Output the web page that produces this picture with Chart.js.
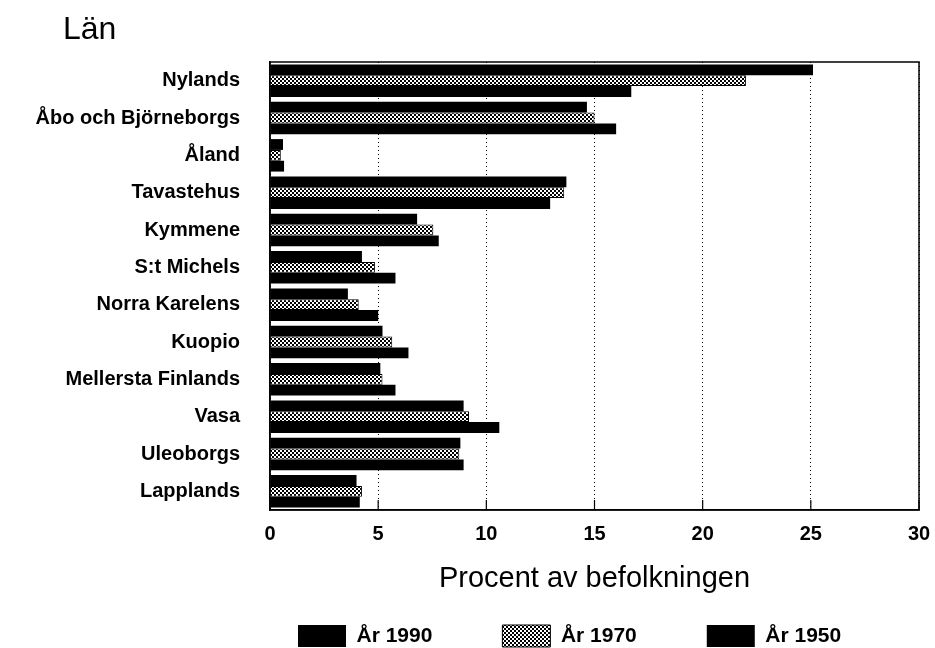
<!DOCTYPE html>
<html>
<head>
<meta charset="utf-8">
<script src="https://cdn.jsdelivr.net/npm/chart.js@4"></script>
<style>
  html, body { margin: 0; padding: 0; background: #fff; }
  #wrap { width: 935px; height: 648px; }
</style>
</head>
<body>
<div id="wrap"><canvas id="chart"></canvas></div>
<script>
const counties = ['Nylands', 'Åbo och Björneborgs', 'Åland', 'Tavastehus', 'Kymmene', 'S:t Michels',
    'Norra Karelens', 'Kuopio', 'Mellersta Finlands', 'Vasa', 'Uleoborgs', 'Lapplands'];
const year1990 = [25.1, 14.65, 0.6, 13.7, 6.8, 4.25, 3.6, 5.2, 5.1, 8.95, 8.8, 4.0];
const year1970 = [22.0, 15.0, 0.5, 13.6, 7.55, 4.85, 4.1, 5.65, 5.2, 9.2, 8.75, 4.25];
const year1950 = [16.7, 16.0, 0.65, 12.95, 7.8, 5.8, 5.0, 6.4, 5.8, 10.6, 8.95, 4.15];
const seriesLabels = ['År 1990', 'År 1970', 'År 1950'];
const xMin = 0, xMax = 30, xStep = 5;

const FONT = '"Liberation Sans", Arial, Helvetica, sans-serif';

// checkered fill used for the 1970 bars
function makePattern() {
    const c = document.createElement('canvas');
    c.width = 4; c.height = 4;
    const g = c.getContext('2d');
    g.fillStyle = '#fff';
    g.fillRect(0, 0, 4, 4);
    g.fillStyle = '#000';
    g.fillRect(0, 0, 2, 2);
    g.fillRect(2, 2, 2, 2);
    return g.createPattern(c, 'repeat');
}

// frame around the plot, short inward ticks on the x axis, and the "Län" heading
const framePlugin = {
    id: 'frame',
    afterLayout(chart) {
        // put the legend under the plot like the original (first box at x≈298, y≈625)
        // the legend clips to its own box, so the box is stretched to the canvas bottom
        const lg = chart.legend;
        const pad = lg.options.labels.padding;
        const start = (lg.left + pad + lg.right - lg.lineWidths[0]) / 2;
        const dx = 298 - start;
        lg.left += dx; lg.right += dx;
        lg.top = 625 - pad;
        lg.bottom = chart.height;
    },
    afterDatasetsDraw(chart) {
        const { ctx, chartArea: a, scales: { x } } = chart;
        ctx.save();
        ctx.strokeStyle = '#000';
        ctx.lineWidth = 1.5;
        ctx.strokeRect(a.left, a.top, a.right - a.left, a.bottom - a.top);
        ctx.lineWidth = 1.2;
        x.ticks.forEach((t, i) => {
            const px = x.getPixelForTick(i);
            ctx.beginPath();
            ctx.moveTo(px, a.bottom);
            ctx.lineTo(px, a.bottom - 10);
            ctx.stroke();
        });
        ctx.restore();
    },
    afterDraw(chart) {
        const ctx = chart.ctx;
        ctx.save();
        ctx.fillStyle = '#000';
        ctx.font = '32px ' + FONT;
        ctx.textBaseline = 'alphabetic';
        ctx.fillText('Län', 63, 39);
        ctx.restore();
    }
};

function renderChart() {
    const pattern = makePattern();
    const ctx = document.getElementById('chart').getContext('2d');
    new Chart(ctx, {
        type: 'bar',
        data: {
            labels: counties,
            datasets: [
                { label: seriesLabels[0], data: year1990, backgroundColor: '#000', borderColor: '#000', borderWidth: 0 },
                { label: seriesLabels[1], data: year1970, backgroundColor: pattern, borderColor: '#000', borderWidth: 1 },
                { label: seriesLabels[2], data: year1950, backgroundColor: '#000', borderColor: '#000', borderWidth: 0 }
            ]
        },
        options: {
            indexAxis: 'y',
            responsive: true,
            maintainAspectRatio: false,
            animation: false,
            categoryPercentage: 0.87,
            barPercentage: 1.0,
            layout: { padding: { top: 62, right: 0, left: 0, bottom: 0 } },
            plugins: {
                tooltip: { enabled: false },
                legend: {
                    position: 'bottom',
                    maxHeight: 43,
                    labels: {
                        color: '#000',
                        boxWidth: 48,
                        boxHeight: 22,
                        padding: 70,
                        font: { family: FONT, size: 21, weight: 'bold' }
                    }
                }
            },
            scales: {
                x: {
                    min: xMin,
                    max: xMax,
                    ticks: {
                        stepSize: xStep,
                        color: '#000',
                        padding: 12,
                        font: { family: FONT, size: 20, weight: 'bold' }
                    },
                    grid: {
                        color: '#000',
                        lineWidth: 1,
                        drawTicks: false
                    },
                    // in Chart.js v4 border.dash styles the grid lines: dotted verticals
                    border: { display: true, color: '#000', width: 1.5, dash: [1, 3] },
                    title: {
                        display: true,
                        text: 'Procent av befolkningen',
                        color: '#000',
                        padding: { top: 4, bottom: 9 },
                        font: { family: FONT, size: 29 }
                    },
                    afterFit(scale) {
                        scale.height = 95;
                        scale.paddingRight = 16;
                    }
                },
                y: {
                    grid: { display: false, drawTicks: false },
                    border: { display: true, color: '#000', width: 1.5 },
                    ticks: {
                        color: '#000',
                        padding: 30,
                        font: { family: FONT, size: 20, weight: 'bold' }
                    },
                    afterFit(scale) { scale.width = 270; }
                }
            }
        },
        plugins: [framePlugin]
    });
}

document.addEventListener('DOMContentLoaded', () => {
    renderChart();
});
</script>
</body>
</html>
